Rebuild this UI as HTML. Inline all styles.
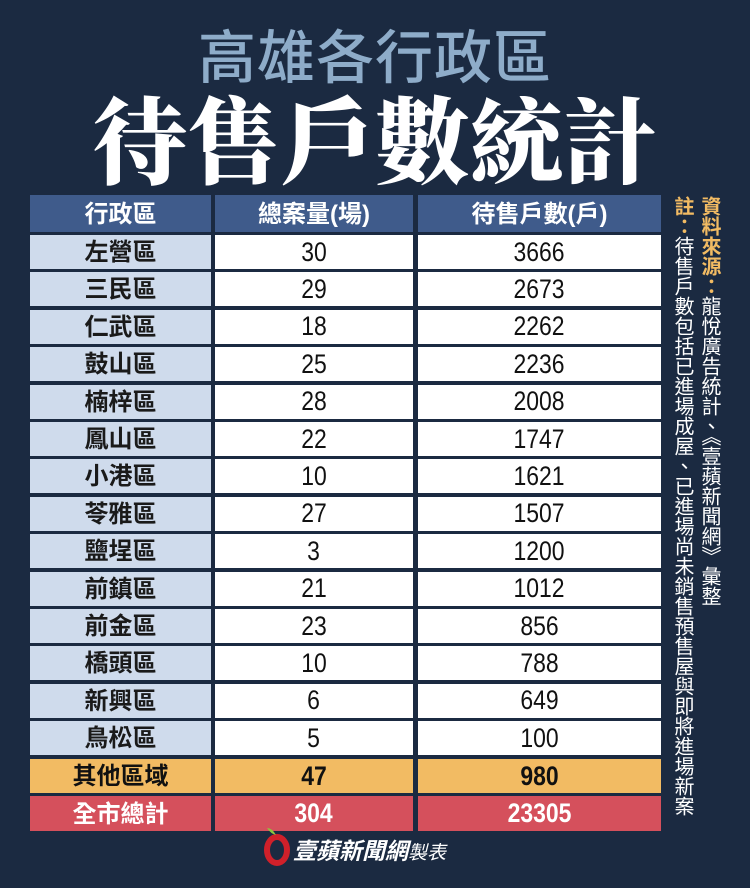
<!DOCTYPE html>
<html><head><meta charset="utf-8"><style>
*{margin:0;padding:0;box-sizing:border-box}
body{width:750px;height:888px;background:#1b2a41;position:relative;overflow:hidden;font-family:"Liberation Sans","Noto Sans CJK TC",sans-serif}
.t1{position:absolute;left:0;width:750px;top:26px;text-align:center;color:#8eacc9;font-size:58px;line-height:66px;font-weight:500;letter-spacing:1px}
.t2{position:absolute;left:0;width:750px;top:86px;text-align:center;color:#fff;font-family:"Noto Serif CJK SC","Noto Serif CJK TC",serif;font-weight:900;font-size:94px;line-height:100px}
.c{position:absolute;display:flex;align-items:center;justify-content:center;font-size:24px}
.c.k{padding-bottom:5px}
.c span{display:inline-block;transform:scaleX(0.85);font-size:27px}
.side{position:absolute;writing-mode:vertical-rl;font-size:20px;line-height:24px;color:#fff;font-family:"Noto Sans CJK TC",sans-serif}
.side b{color:#f2bb63}
</style></head><body>
<div class="t1">高雄各行政區</div>
<div class="t2">待售戶數統計</div>
<div id="tbl"></div>
<div class="side" style="left:699px;top:196px;">
<b>資料來源：</b>龍悅廣告統計、《壹蘋新聞網》彙整</div>
<div class="side" style="left:672px;top:196px;"><b>註：</b>待售戶數包括已進場成屋、已進場尚未銷售預售屋與即將進場新案</div>
<div style="position:absolute;left:262px;top:826px;width:30px;height:40px;">
<svg width="30" height="40"><ellipse cx="15" cy="24" rx="10" ry="13" fill="none" stroke="#d0202a" stroke-width="6"/><path d="M14 9 Q10 2 5 2 Q9 8 14 9Z" fill="#8cc63e"/></svg></div>
<div style="position:absolute;left:293px;top:834px;color:#fff;font-size:23px;font-weight:bold;font-style:italic;font-family:'Noto Sans CJK TC',sans-serif;line-height:30px">壹蘋新聞網<span style="font-weight:normal;font-size:19px">製表</span></div>
<script>
var rows=[["左營區",30,3666],["三民區",29,2673],["仁武區",18,2262],["鼓山區",25,2236],["楠梓區",28,2008],["鳳山區",22,1747],["小港區",10,1621],["苓雅區",27,1507],["鹽埕區",3,1200],["前鎮區",21,1012],["前金區",23,856],["橋頭區",10,788],["新興區",6,649],["鳥松區",5,100]];
var cols=[[30,181],[215,198],[418,243]];
var h='';
function cell(i,y,hh,bg,col,txt,fw){var isNum=(typeof txt==='number');h+='<div class="c'+(isNum?'':' k')+'" style="left:'+cols[i][0]+'px;width:'+cols[i][1]+'px;top:'+y+'px;height:'+hh+'px;background:'+bg+';color:'+col+';font-weight:'+fw+'">'+(isNum?'<span>'+txt+'</span>':txt)+'</div>';}
var hd=["行政區","總案量(場)","待售戶數(戶)"];
for(var i=0;i<3;i++)cell(i,195,37,"#3f5b8b","#fff",hd[i],"bold");
for(var r=0;r<14;r++){var y=235+r*37.4;cell(0,y,34,"#cfdbec","#1a1a1a",rows[r][0],"bold");cell(1,y,34,"#fff","#111",rows[r][1],"normal");cell(2,y,34,"#fff","#111",rows[r][2],"normal");}
var o=["其他區域",47,980];for(i=0;i<3;i++)cell(i,759,34,"#f2bb63","#111",o[i],"bold");
var t=["全市總計",304,23305];for(i=0;i<3;i++)cell(i,796,35,"#d5505c","#fff",t[i],"bold");
document.getElementById('tbl').innerHTML=h;
</script>
</body></html>
